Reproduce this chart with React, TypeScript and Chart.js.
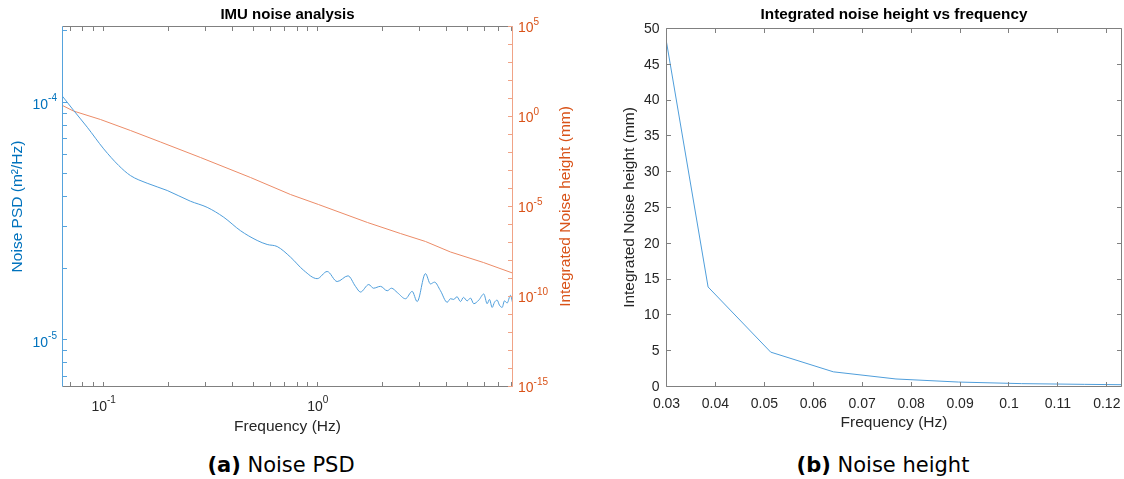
import React, { useEffect, useRef } from "react";
import { Chart, registerables } from "chart.js";
Chart.register(...registerables);

// ---------- data ----------
// (a) Noise PSD, left axis (m^2/Hz)
const psdFreq = [
  0.0642, 0.0725, 0.0838, 0.1, 0.1176, 0.1334, 0.1596, 0.198, 0.2543, 0.3043,
  0.3638, 0.4354, 0.521, 0.5803, 0.6462, 0.7456, 0.8602, 0.9936, 1.106, 1.232,
  1.384, 1.5, 1.583, 1.731, 1.82, 1.963, 2.11, 2.209, 2.356, 2.568,
  2.76, 2.912, 3.184, 3.36, 3.509, 3.742, 4.022, 4.167, 4.317, 4.469,
  4.64, 4.792, 4.987, 5.167, 5.353, 5.649, 5.963, 6.183, 6.338, 6.526,
  6.688, 6.884, 7.056, 7.266, 7.447, 7.666, 7.943, 8.12,
];
const psdValue = [
  1.058e-4, 9.21e-5, 7.84e-5, 6.36e-5, 5.41e-5, 4.91e-5, 4.56e-5, 4.25e-5, 3.83e-5, 3.61e-5,
  3.28e-5, 2.88e-5, 2.62e-5, 2.52e-5, 2.47e-5, 2.23e-5, 1.96e-5, 1.81e-5, 1.94e-5, 1.76e-5,
  1.86e-5, 1.68e-5, 1.59e-5, 1.71e-5, 1.65e-5, 1.68e-5, 1.61e-5, 1.65e-5, 1.58e-5, 1.49e-5,
  1.6e-5, 1.45e-5, 1.9e-5, 1.72e-5, 1.75e-5, 1.61e-5, 1.44e-5, 1.49e-5, 1.48e-5, 1.52e-5,
  1.45e-5, 1.51e-5, 1.46e-5, 1.5e-5, 1.42e-5, 1.47e-5, 1.56e-5, 1.42e-5, 1.48e-5, 1.37e-5,
  1.44e-5, 1.47e-5, 1.4e-5, 1.37e-5, 1.46e-5, 1.43e-5, 1.54e-5, 1.44e-5,
];
// (a) Integrated noise height, right axis (mm)
const intFreq = [
  0.0642, 0.0722, 0.0966, 0.1334, 0.1842, 0.2832, 0.4851, 0.7456, 1.0076,
  1.707, 2.433, 3.184, 4.167, 5.94, 8.12,
];
const intHeight = [
  4.08, 2.02, 0.681, 0.1668, 0.0383, 0.00527, 4.08e-4, 4.64e-5, 1.29e-5,
  1.29e-6, 3.16e-7, 1.14e-7, 2.97e-8, 7.74e-9, 2.02e-9,
];
// (b) Integrated noise height vs frequency
const nhFreq = [0.03, 0.0385, 0.0513, 0.0641, 0.0769, 0.0897, 0.1026, 0.1154, 0.123];
const nhHeight = [48.1, 13.9, 4.8, 2.05, 1.05, 0.62, 0.4, 0.3, 0.25];

// ticks
const freqExpTicks = [-1, 0];
const psdExpTicks = [-5, -4];
const intExpTicks = [-15, -10, -5, 0, 5];
const intExpMinor = [-15, -14, -13, -12, -11, -10, -9, -8, -7, -6, -5, -4, -3, -2, -1, 0, 1, 2, 3, 4, 5];
const nhXTicks = [0.03, 0.04, 0.05, 0.06, 0.07, 0.08, 0.09, 0.1, 0.11, 0.12];
const nhXTickLabels = ["0.03", "0.04", "0.05", "0.06", "0.07", "0.08", "0.09", "0.1", "0.11", "0.12"];
const nhYTicks = [0, 5, 10, 15, 20, 25, 30, 35, 40, 45, 50];

// ---------- styles ----------
const FONT = '"Liberation Sans", Arial, Helvetica, sans-serif';
const TXT = "#262626";
const GREY = "#808080";
const BLUE = "#0072BD";
const ORANGE = "#D95319";
const BLUE_AX = "#55a3dd";
const ORANGE_AX = "#f0a386";
const TL = 4.5;
const TICK_PX = 14;
const EXP_PX = 10;
const LABEL_PX = 15.5;
const snap = (v: number) => Math.round(v - 0.5) + 0.5;

function logSubTicks(min: number, max: number) {
  const out: number[] = [];
  const e0 = Math.floor(Math.log10(min));
  const e1 = Math.ceil(Math.log10(max));
  for (let e = e0; e <= e1; e++) {
    for (let m = 1; m < 10; m++) {
      const v = m * Math.pow(10, e);
      if (v >= min * 1.0001 && v <= max * 0.9999) out.push(v);
    }
  }
  return out;
}

function drawPow(ctx: CanvasRenderingContext2D, exp: number, x: number, y: number, align: string, color: string) {
  ctx.fillStyle = color;
  ctx.textBaseline = "middle";
  ctx.textAlign = "left";
  ctx.font = `${TICK_PX}px ${FONT}`;
  const wb = ctx.measureText("10").width;
  ctx.font = `${EXP_PX}px ${FONT}`;
  const es = String(exp);
  const we = ctx.measureText(es).width;
  const total = wb + we;
  const x0 = align === "left" ? x : align === "right" ? x - total : x - total / 2;
  ctx.font = `${TICK_PX}px ${FONT}`;
  ctx.fillText("10", x0, y + 2);
  ctx.font = `${EXP_PX}px ${FONT}`;
  ctx.fillText(es, x0 + wb, y - 4.5);
}

function drawRotated(ctx: CanvasRenderingContext2D, text: string, x: number, y: number, font: string, color: string) {
  ctx.save();
  ctx.translate(x, y);
  ctx.rotate(-Math.PI / 2);
  ctx.font = font;
  ctx.fillStyle = color;
  ctx.textAlign = "center";
  ctx.textBaseline = "middle";
  ctx.fillText(text, 0, 0);
  ctx.restore();
}

const leftPlugin = {
  id: "leftAxes",
  afterDraw(chart: any) {
    const { ctx, chartArea: a, scales } = chart;
    const sx = scales.x, sy = scales.y, sy2 = scales.y2;
    ctx.save();
    ctx.lineWidth = 1;
    ctx.strokeStyle = GREY;
    ctx.beginPath();
    for (const v of logSubTicks(sx.min, sx.max)) {
      const p = snap(sx.getPixelForValue(v));
      ctx.moveTo(p, a.bottom); ctx.lineTo(p, a.bottom - TL);
      ctx.moveTo(p, a.top); ctx.lineTo(p, a.top + TL);
    }
    ctx.moveTo(a.left, a.top); ctx.lineTo(a.right, a.top);
    ctx.moveTo(a.left, a.bottom); ctx.lineTo(a.right, a.bottom);
    ctx.stroke();
    ctx.strokeStyle = BLUE_AX;
    ctx.beginPath();
    for (const v of logSubTicks(sy.min, sy.max)) {
      const p = snap(sy.getPixelForValue(v));
      ctx.moveTo(a.left, p); ctx.lineTo(a.left + TL, p);
    }
    ctx.moveTo(a.left, a.top); ctx.lineTo(a.left, a.bottom);
    ctx.stroke();
    ctx.strokeStyle = ORANGE_AX;
    ctx.beginPath();
    for (const e of intExpMinor) {
      const p = snap(sy2.getPixelForValue(Math.pow(10, e)));
      ctx.moveTo(a.right, p); ctx.lineTo(a.right - TL, p);
    }
    ctx.moveTo(a.right, a.top); ctx.lineTo(a.right, a.bottom);
    ctx.stroke();
    for (const e of freqExpTicks) drawPow(ctx, e, sx.getPixelForValue(Math.pow(10, e)), 405, "center", TXT);
    for (const e of psdExpTicks) drawPow(ctx, e, 57, sy.getPixelForValue(Math.pow(10, e)) + 1, "right", BLUE);
    for (const e of intExpTicks) drawPow(ctx, e, 518, sy2.getPixelForValue(Math.pow(10, e)), "left", ORANGE);
    const cx = (a.left + a.right) / 2;
    const cy = (a.top + a.bottom) / 2;
    ctx.fillStyle = "#000";
    ctx.font = `bold 15px ${FONT}`;
    ctx.textAlign = "center";
    ctx.textBaseline = "middle";
    ctx.fillText("IMU noise analysis", cx, 15);
    ctx.fillStyle = TXT;
    ctx.font = `${LABEL_PX}px ${FONT}`;
    ctx.fillText("Frequency (Hz)", cx, 427);
    drawRotated(ctx, "Noise PSD (m\u00B2/Hz)", 18, cy, `${LABEL_PX}px ${FONT}`, BLUE);
    drawRotated(ctx, "Integrated Noise height (mm)", 566, cy, `${LABEL_PX}px ${FONT}`, ORANGE);
    ctx.restore();
  },
};

const rightPlugin = {
  id: "rightAxes",
  afterDraw(chart: any) {
    const { ctx, chartArea: a, scales } = chart;
    const sx = scales.x, sy = scales.y;
    ctx.save();
    ctx.lineWidth = 1;
    ctx.strokeStyle = GREY;
    ctx.beginPath();
    for (const v of nhXTicks) {
      const p = snap(sx.getPixelForValue(v));
      ctx.moveTo(p, a.bottom); ctx.lineTo(p, a.bottom - TL);
      ctx.moveTo(p, a.top); ctx.lineTo(p, a.top + TL);
    }
    for (const v of nhYTicks) {
      const p = snap(sy.getPixelForValue(v));
      ctx.moveTo(a.left, p); ctx.lineTo(a.left + TL, p);
      ctx.moveTo(a.right, p); ctx.lineTo(a.right - TL, p);
    }
    ctx.rect(a.left, a.top, a.right - a.left, a.bottom - a.top);
    ctx.stroke();
    ctx.fillStyle = TXT;
    ctx.font = `${TICK_PX}px ${FONT}`;
    ctx.textBaseline = "middle";
    ctx.textAlign = "center";
    nhXTicks.forEach((v, i) => ctx.fillText(nhXTickLabels[i], sx.getPixelForValue(v), 404));
    ctx.textAlign = "right";
    nhYTicks.forEach((v) => ctx.fillText(String(v), a.left - 7, sy.getPixelForValue(v) + 0.5));
    const cx = (a.left + a.right) / 2;
    const cy = (a.top + a.bottom) / 2;
    ctx.textAlign = "center";
    ctx.fillStyle = "#000";
    ctx.font = `bold 15.3px ${FONT}`;
    ctx.fillText("Integrated noise height vs frequency", cx, 15);
    ctx.fillStyle = TXT;
    ctx.font = `${LABEL_PX}px ${FONT}`;
    ctx.fillText("Frequency (Hz)", cx, 423);
    drawRotated(ctx, "Integrated Noise height (mm)", 55, cy, `${LABEL_PX}px ${FONT}`, TXT);
    ctx.restore();
  },
};

export default function App() {
  const leftRef = useRef<HTMLCanvasElement>(null);
  const rightRef = useRef<HTMLCanvasElement>(null);

  useEffect(() => {
    const c1 = new Chart(leftRef.current as HTMLCanvasElement, {
      type: "line",
      data: {
        datasets: [
          {
            data: psdFreq.map((f, i) => ({ x: f, y: psdValue[i] })),
            yAxisID: "y",
            borderColor: "#4f9edb",
            borderWidth: 1,
            pointRadius: 0,
            cubicInterpolationMode: "monotone",
          },
          {
            data: intFreq.map((f, i) => ({ x: f, y: intHeight[i] })),
            yAxisID: "y2",
            borderColor: "#ec8c68",
            borderWidth: 1,
            pointRadius: 0,
          },
        ],
      },
      options: {
        animation: false,
        responsive: false,
        events: [],
        layout: { padding: { left: 62.5, right: 67.5, top: 26.5, bottom: 53.5 } },
        plugins: { legend: { display: false }, tooltip: { enabled: false }, title: { display: false } },
        scales: {
          x: { type: "logarithmic", min: 0.0642, max: 8.12, display: false },
          y: { type: "logarithmic", position: "left", min: 6.37e-6, max: 2.08e-4, display: false },
          y2: { type: "logarithmic", position: "right", min: 1e-15, max: 1e5, display: false },
        },
      } as any,
      plugins: [leftPlugin],
    });
    const c2 = new Chart(rightRef.current as HTMLCanvasElement, {
      type: "line",
      data: {
        datasets: [
          {
            data: nhFreq.map((f, i) => ({ x: f, y: nhHeight[i] })),
            borderColor: "#4f9edb",
            borderWidth: 1,
            pointRadius: 0,
          },
        ],
      },
      options: {
        animation: false,
        responsive: false,
        events: [],
        layout: { padding: { left: 91.5, right: 2.5, top: 28.5, bottom: 53.5 } },
        plugins: { legend: { display: false }, tooltip: { enabled: false }, title: { display: false } },
        scales: {
          x: { type: "linear", min: 0.03, max: 0.123, display: false },
          y: { type: "linear", min: 0, max: 50, display: false },
        },
      } as any,
      plugins: [rightPlugin],
    });
    return () => {
      c1.destroy();
      c2.destroy();
    };
  }, []);

  const capStyle: React.CSSProperties = {
    position: "absolute",
    top: 452,
    width: 400,
    textAlign: "center",
    fontFamily: '"DejaVu Sans", sans-serif',
    fontSize: 21,
    lineHeight: "26px",
    color: "#000",
    whiteSpace: "nowrap",
  };

  return (
    <div style={{ position: "fixed", left: 0, top: 0, width: 1124, height: 479, background: "#fff", overflow: "hidden" }}>
      <canvas ref={leftRef} width={580} height={440} style={{ position: "absolute", left: 0, top: 0, width: 580, height: 440 }} />
      <canvas ref={rightRef} width={549} height={440} style={{ position: "absolute", left: 575, top: 0, width: 549, height: 440 }} />
      <div style={{ ...capStyle, left: 81 }}>
        <b>(a)</b> Noise PSD
      </div>
      <div style={{ ...capStyle, left: 683 }}>
        <b>(b)</b> Noise height
      </div>
    </div>
  );
}
